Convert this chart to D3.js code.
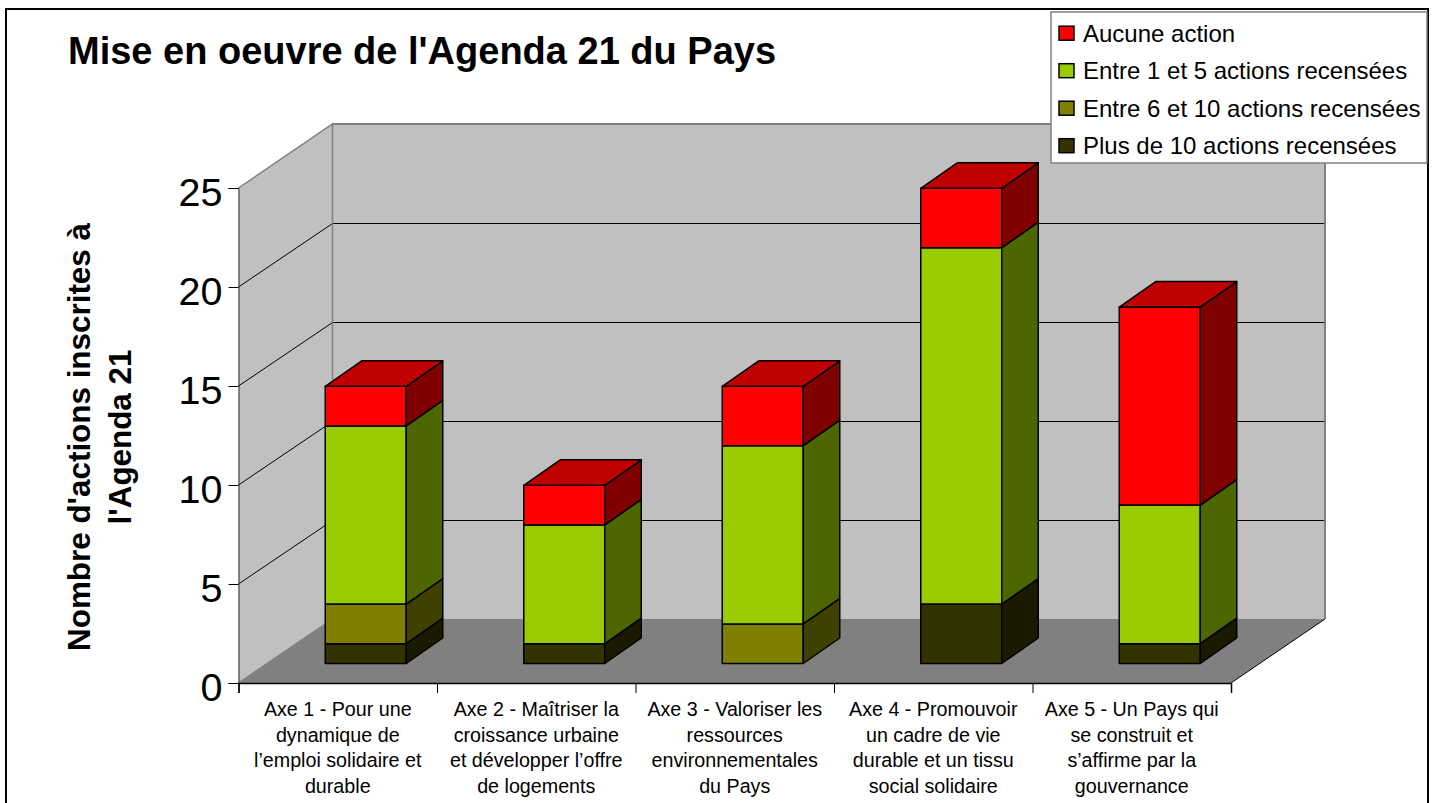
<!DOCTYPE html>
<html>
<head>
<meta charset="utf-8">
<script src="https://cdn.jsdelivr.net/npm/d3@7"></script>
<style>
  html, body { margin: 0; padding: 0; background: #fff; overflow: hidden; }
  text { font-family: "Liberation Sans", Arial, sans-serif; fill: #000; }
</style>
</head>
<body>
<div id="chart"></div>
<script>
// valeurs
const categories = [
    ["Axe 1 - Pour une", "dynamique de", "l\u2019emploi solidaire et", "durable"],
    ["Axe 2 - Ma\u00eetriser la", "croissance urbaine", "et d\u00e9velopper l\u2019offre", "de logements"],
    ["Axe 3 - Valoriser les", "ressources", "environnementales", "du Pays"],
    ["Axe 4 - Promouvoir", "un cadre de vie", "durable et un tissu", "social solidaire"],
    ["Axe 5 - Un Pays qui", "se construit et", "s\u2019affirme par la", "gouvernance"]
];
const plusDe10 = [1, 1, 0, 3, 1];
const entre6et10 = [2, 0, 2, 0, 0];
const entre1et5 = [9, 6, 9, 18, 7];
const aucune = [2, 2, 3, 3, 10];
const yTicks = [0, 5, 10, 15, 20, 25];
const seriesNames = ["Plus de 10 actions recens\u00e9es", "Entre 6 et 10 actions recens\u00e9es", "Entre 1 et 5 actions recens\u00e9es", "Aucune action"];
const seriesColors = ["#333300", "#808000", "#99cc00", "#ff0000"];
const seriesSides = ["#1a1a00", "#404000", "#4d6600", "#800000"];
const seriesTops = ["#262600", "#606000", "#739900", "#c00000"];

const width = 1437, height = 803;
const x0 = 238.5, x1 = 1231, yBase = 683, yTop = 188;
const depthX = 94, depthY = -64;

const svg = d3.select("#chart").append("svg")
    .attr("width", width)
    .attr("height", height)
    .style("display", "block");

// cadre
svg.append("rect")
    .attr("x", 6).attr("y", 9)
    .attr("width", 1422).attr("height", 820)
    .attr("fill", "#fff").attr("stroke", "#000").attr("stroke-width", 2);

const x = d3.scaleBand().domain(d3.range(categories.length)).range([x0, x1]);
const y = d3.scaleLinear().domain([0, 25]).range([yBase, yTop]);
const xEdges = d3.scaleLinear().domain([0, categories.length]).range([x0, x1]);

const poly = pts => pts.map(p => p.join(",")).join(" ");

// murs et sol
svg.append("polygon")
    .attr("points", poly([[x0, y(25)], [x0 + depthX, y(25) + depthY], [x0 + depthX, yBase + depthY], [x0, yBase]]))
    .attr("fill", "#c0c0c0");
svg.append("polygon")
    .attr("points", poly([[x0 + depthX, y(25) + depthY], [x1 + depthX, y(25) + depthY], [x1 + depthX, yBase + depthY], [x0 + depthX, yBase + depthY]]))
    .attr("fill", "#c0c0c0");
svg.append("polygon")
    .attr("points", poly([[x0, yBase], [x0 + depthX, yBase + depthY], [x1 + depthX, yBase + depthY], [x1, yBase]]))
    .attr("fill", "#808080");

// lignes de grille
yTicks.filter(t => t > 0 && t < 25).forEach(t => {
    const yBack = Math.round(y(t) + depthY) + 0.5;
    svg.append("line")
        .attr("x1", x0).attr("y1", y(t))
        .attr("x2", x0 + depthX).attr("y2", yBack)
        .attr("stroke", "#000").attr("stroke-width", 1);
    svg.append("line")
        .attr("x1", x0 + depthX).attr("y1", yBack)
        .attr("x2", x1 + depthX).attr("y2", yBack)
        .attr("stroke", "#000").attr("stroke-width", 1);
});

// arêtes grises des murs
svg.append("polyline")
    .attr("points", poly([[x0, yBase], [x0 + depthX, yBase + depthY], [x0 + depthX, y(25) + depthY], [x0, y(25)]]))
    .attr("fill", "none").attr("stroke", "#808080").attr("stroke-width", 1.5);
svg.append("polyline")
    .attr("points", poly([[x0 + depthX, y(25) + depthY], [x1 + depthX, y(25) + depthY], [x1 + depthX, yBase + depthY]]))
    .attr("fill", "none").attr("stroke", "#808080").attr("stroke-width", 2);

// barres empilées
const stackRows = categories.map((c, i) => ({ i, s0: plusDe10[i], s1: entre6et10[i], s2: entre1et5[i], s3: aucune[i] }));
const stacked = d3.stack().keys(["s0", "s1", "s2", "s3"])(stackRows);

const barW = 81, barOffX = 28, barOffY = -19.5, barDX = 36.5, barDY = -25.5;
const barsG = svg.append("g").attr("stroke", "#000").attr("stroke-width", 1.5).attr("stroke-linejoin", "round");

categories.forEach((c, i) => {
    const left = x(i) + x.bandwidth() / 2 + barOffX - barW / 2;
    const right = left + barW;
    stacked.forEach((layer, k) => {
        const [v0, v1] = layer[i];
        if (v1 === v0) return;
        const yb = y(v0) + barOffY, yt = y(v1) + barOffY;
        barsG.append("rect")
            .attr("x", left).attr("y", yt)
            .attr("width", barW).attr("height", yb - yt)
            .attr("fill", seriesColors[k]);
        barsG.append("polygon")
            .attr("points", poly([[right, yb], [right + barDX, yb + barDY], [right + barDX, yt + barDY], [right, yt]]))
            .attr("fill", seriesSides[k]);
        // le dessus n'est visible que pour la dernière série non vide
        if (v1 === d3.max(stacked, l => l[i][1]) ) {
            barsG.append("polygon")
                .attr("points", poly([[left, yt], [left + barDX, yt + barDY], [right + barDX, yt + barDY], [right, yt]]))
                .attr("fill", seriesTops[k]);
        }
    });
});

// axes
const yAxis = svg.append("g")
    .attr("transform", `translate(${x0},0)`)
    .call(d3.axisLeft(y).tickValues(yTicks).tickSize(10).tickPadding(6));
yAxis.selectAll("text").style("font-size", "39.5px").attr("dy", "17px");
yAxis.select(".domain").attr("stroke", "#333");

const xAxis = svg.append("g")
    .attr("transform", `translate(0,${yBase})`)
    .call(d3.axisBottom(xEdges).tickValues(d3.range(categories.length + 1)).tickSize(10).tickFormat(""));
xAxis.select(".domain").attr("stroke-width", 1.5);

svg.append("line")
    .attr("x1", x1).attr("y1", yBase)
    .attr("x2", x1 + depthX).attr("y2", yBase + depthY)
    .attr("stroke", "#000");

// étiquettes de catégories
categories.forEach((lines, i) => {
    lines.forEach((line, j) => {
        svg.append("text")
            .attr("x", x(i) + x.bandwidth() / 2)
            .attr("y", 716 + j * 25.7)
            .attr("text-anchor", "middle")
            .style("font-size", "19.7px")
            .text(line);
    });
});

// titres
svg.append("text")
    .attr("x", 68).attr("y", 64)
    .style("font-size", "38px").style("font-weight", "bold")
    .text("Mise en oeuvre de l'Agenda 21 du Pays");

const yTitle = svg.append("text")
    .attr("transform", "translate(0,437) rotate(-90)")
    .attr("text-anchor", "middle")
    .style("font-size", "31.4px").style("font-weight", "bold");
yTitle.append("tspan").attr("x", 0).attr("y", 90).text("Nombre d'actions inscrites \u00e0");
yTitle.append("tspan").attr("x", 0).attr("y", 131).text("l'Agenda 21");

// légende
const legend = svg.append("g");
legend.append("rect")
    .attr("x", 1051).attr("y", 12)
    .attr("width", 376).attr("height", 151)
    .attr("fill", "#fff").attr("stroke", "#808080").attr("stroke-width", 1.5);

const legendOrder = [3, 2, 1, 0];
legendOrder.forEach((k, j) => {
    const cy = 33.2 + j * 37.5;
    legend.append("rect")
        .attr("x", 1059).attr("y", cy - 7)
        .attr("width", 15).attr("height", 14)
        .attr("fill", seriesColors[k]).attr("stroke", "#000").attr("stroke-width", 1.5);
    legend.append("text")
        .attr("x", 1083).attr("y", cy + 8.5)
        .style("font-size", "24px")
        .text(seriesNames[k]);
});
</script>
</body>
</html>
